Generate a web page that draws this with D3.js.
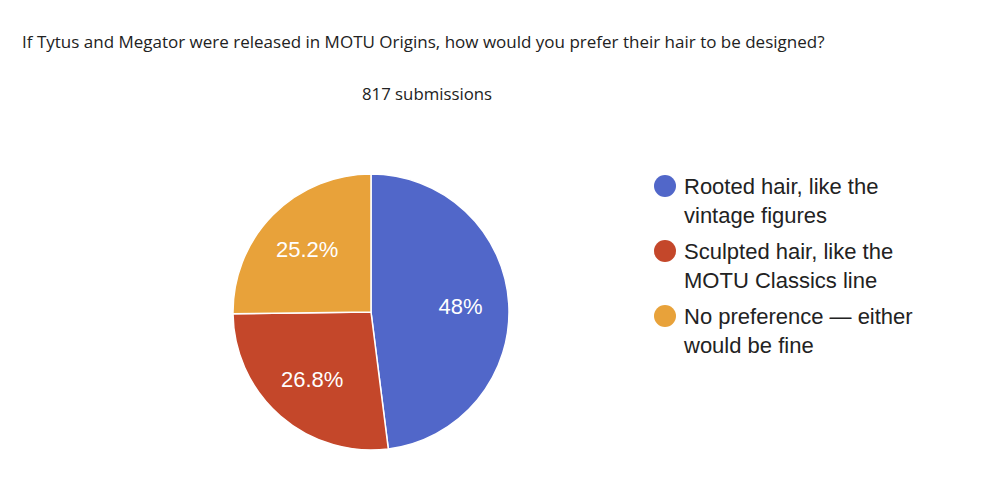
<!DOCTYPE html>
<html><head><meta charset="utf-8">
<script src="https://cdn.jsdelivr.net/npm/d3@7"></script>
<style>body{margin:0;background:#fff;}</style>
</head><body>
<svg id="c" width="1000" height="478"></svg>
<script>
const title = "If Tytus and Megator were released in MOTU Origins, how would you prefer their hair to be designed?";
const subtitle = "817 submissions";
const categories = [
  ["Rooted hair, like the", "vintage figures"],
  ["Sculpted hair, like the", "MOTU Classics line"],
  ["No preference \u2014 either", "would be fine"]
];
const values = [48, 26.8, 25.2];
const labels = ["48%", "26.8%", "25.2%"];
const colors = ["#5167c9", "#c4472a", "#e8a23a"];

const svg = d3.select("#c");
svg.append("rect").attr("width",1000).attr("height",478).attr("fill","#fff");

svg.append("text").attr("x",22).attr("y",48)
  .attr("font-family","'Open Sans', sans-serif").attr("font-size",17).attr("fill","#222")
  .text(title);
svg.append("text").attr("x",427).attr("y",100).attr("text-anchor","middle")
  .attr("font-family","'Open Sans', sans-serif").attr("font-size",16.8).attr("fill","#222")
  .text(subtitle);

const cx = 371, cy = 312, r = 138;
const pie = d3.pie().sort(null).value(d=>d);
const arcs = pie(values);
const arc = d3.arc().innerRadius(0).outerRadius(r);
const labelArc = d3.arc().innerRadius(r*0.65).outerRadius(r*0.65);
const g = svg.append("g").attr("transform",`translate(${cx},${cy})`);
g.selectAll("path").data(arcs).join("path")
  .attr("d",arc).attr("fill",(d,i)=>colors[i])
  .attr("stroke","#fff").attr("stroke-width",1.5);
g.selectAll("text").data(arcs).join("text")
  .attr("transform",d=>`translate(${labelArc.centroid(d)})`)
  .attr("text-anchor","middle").attr("dy","0.35em")
  .attr("font-family","'Liberation Sans', Arial, sans-serif").attr("font-size",22)
  .attr("fill","#fff").text((d,i)=>labels[i]);

const leg = svg.append("g");
const legY = d3.scaleBand().domain(d3.range(categories.length)).range([172,367]);
const items = leg.selectAll("g").data(categories).join("g")
  .attr("transform",(d,i)=>`translate(665,${legY(i)+14})`);
items.append("circle").attr("r",11).attr("fill",(d,i)=>colors[i]);
items.each(function(d){
  const t = d3.select(this).append("text").attr("x",19).attr("y",8)
    .attr("font-family","'Liberation Sans', Arial, sans-serif").attr("font-size",22).attr("fill","#222");
  d.forEach((line,j)=>t.append("tspan").attr("x",19).attr("dy", j===0?0:29).text(line));
});
</script>
</body></html>
